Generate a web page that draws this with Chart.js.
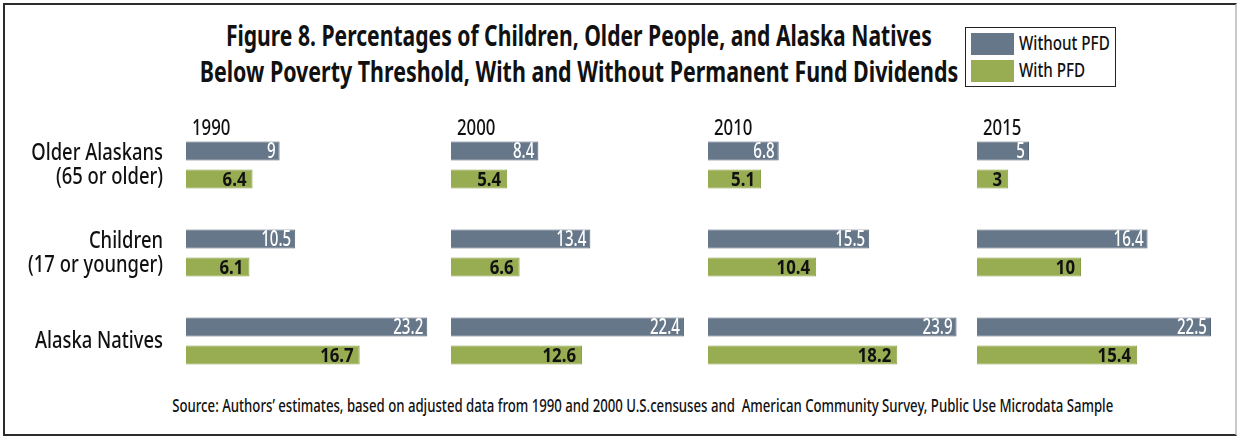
<!DOCTYPE html>
<html>
<head>
<meta charset="utf-8">
<script src="https://cdn.jsdelivr.net/npm/chart.js@4.4.1/dist/chart.umd.min.js"></script>
<style>
  body { margin: 0; background: #fff; width: 1239px; height: 439px; overflow: hidden; position: relative;
         font-family: "Noto Sans", "Open Sans", sans-serif; color: #111; }
  .frame { position: absolute; left: 3px; top: 3px; width: 1230px; height: 429px;
           border: 2px solid #2b2b2b; border-right-color: #c9c9c9; }
  .title { position: absolute; left: 0; top: 17px; width: 1158px; text-align: center;
           font-weight: bold; font-size: 29px; line-height: 36px; }
  .title span, .source span { display: inline-block; white-space: nowrap; transform-origin: center; }
  .legend { position: absolute; left: 965px; top: 27px; width: 149px; height: 58px;
            border: 1.5px solid #222; font-size: 20px; font-weight: 500; }
  .legend div { position: absolute; left: 5px; height: 22px; line-height: 22px; white-space: nowrap; }
  .legend i { position: absolute; left: 0; top: 0; width: 43px; height: 22px; }
  .legend span { position: absolute; left: 48px; top: -1px; transform: scaleX(0.76); transform-origin: left; }
  .source { position: absolute; left: 0; top: 395px; width: 1276px; text-align: center;
            font-size: 18px; line-height: 20px; font-weight: 500; }
  canvas { position: absolute; top: 111px; }
</style>
</head>
<body>
<div class="frame"></div>
<div class="title">
  <span data-w="706">Figure 8. Percentages of Children, Older People, and Alaska Natives</span><br>
  <span data-w="759">Below Poverty Threshold, With and Without Permanent Fund Dividends</span>
</div>
<div class="legend" id="legend"></div>
<div class="source"><span data-w="940">Source: Authors’ estimates, based on adjusted data from 1990 and 2000 U.S.censuses and&nbsp; American Community Survey, Public Use Microdata Sample</span></div>
<canvas id="p0" width="446" height="284"></canvas>
<canvas id="p1" width="260" height="284"></canvas>
<canvas id="p2" width="260" height="284"></canvas>
<canvas id="p3" width="260" height="284"></canvas>

<script>
// poverty rates (%) by year, group order: older, children, natives
const years = ['1990', '2000', '2010', '2015'];
const groups = [['Older Alaskans', '(65 or older)'], ['Children', '(17 or younger)'], ['Alaska Natives']];
const seriesNames = ['Without PFD', 'With PFD'];
const withoutPfd = [[9, 10.5, 23.2], [8.4, 13.4, 22.4], [6.8, 15.5, 23.9], [5, 16.4, 22.5]];
const withPfd = [[6.4, 6.1, 16.7], [5.4, 6.6, 12.6], [5.1, 10.4, 18.2], [3, 10, 15.4]];

const FONT = '"Noto Sans", "Open Sans", sans-serif';
const colors = ['#66778a', '#98ad52'];
const borders = ['#566577', '#88a044'];
const panelLeft = [0, 451, 708, 977];
const LABEL_GUTTER = 186;

// narrow the html headings down to the condensed widths
document.querySelectorAll('[data-w]').forEach(s => {
  s.style.transform = 'scaleX(' + (s.dataset.w / s.offsetWidth).toFixed(3) + ')';
});

/* legend */
const legend = document.getElementById('legend');
seriesNames.forEach((name, i) => {
  const row = document.createElement('div');
  row.style.top = (5 + i * 27) + 'px';
  row.innerHTML = `<i style="background:${colors[i]}"></i><span>${name}</span>`;
  legend.appendChild(row);
});

function squeezeText(ctx, text, x, y, k) {
  ctx.save();
  ctx.translate(x, y);
  ctx.scale(k, 1);
  ctx.fillText(text, 0, 0);
  ctx.restore();
}

const barLabels = {
  id: 'barLabels',
  afterDatasetsDraw(chart, args, opts) {
    const ctx = chart.ctx;
    ctx.save();
    ctx.textAlign = 'right';
    ctx.textBaseline = 'middle';
    chart.data.datasets.forEach((ds, di) => {
      ctx.font = (di === 0 ? '500 21px ' : 'bold 20px ') + FONT;
      ctx.fillStyle = di === 0 ? '#ffffff' : '#111111';
      chart.getDatasetMeta(di).data.forEach((bar, j) => {
        squeezeText(ctx, String(ds.data[j]), bar.x - (di === 0 ? 4 : 6), bar.y + 1, di === 0 ? 0.72 : 0.84);
      });
    });

    // year heading above the first bar
    const first = chart.getDatasetMeta(0).data[0];
    ctx.textAlign = 'left';
    ctx.textBaseline = 'alphabetic';
    ctx.font = '500 21px ' + FONT;
    ctx.fillStyle = '#111111';
    squeezeText(ctx, opts.year, chart.chartArea.left + 6, first.y - first.height / 2 - 6, 0.8);

    // group names to the left of the first panel
    if (opts.groupLabels) {
      const y = chart.scales.y;
      ctx.textAlign = 'right';
      ctx.textBaseline = 'middle';
      ctx.font = '500 23px ' + FONT;
      const lineH = 24;
      chart.data.labels.forEach((lines, i) => {
        const cy = y.getPixelForValue(i) - (lines.length - 1) * lineH / 2;
        lines.forEach((line, k) => {
          squeezeText(ctx, line, chart.chartArea.left - 23, cy + k * lineH, 0.8);
        });
      });
    }
    ctx.restore();
  }
};

years.forEach((year, p) => {
  const canvas = document.getElementById('p' + p);
  canvas.style.left = panelLeft[p] + 'px';
  new Chart(canvas, {
    type: 'bar',
    data: {
      labels: groups,
      datasets: [
        { label: seriesNames[0], data: withoutPfd[p], backgroundColor: colors[0], borderColor: borders[0], borderWidth: 1 },
        { label: seriesNames[1], data: withPfd[p], backgroundColor: colors[1], borderColor: borders[1], borderWidth: 1 }
      ]
    },
    options: {
      responsive: false,
      animation: false,
      indexAxis: 'y',
      categoryPercentage: 0.636,
      barPercentage: 0.68,
      layout: { padding: { top: 10, bottom: 10, left: p === 0 ? LABEL_GUTTER : 0 } },
      plugins: {
        legend: { display: false },
        tooltip: { enabled: false },
        barLabels: { year, groupLabels: p === 0 }
      },
      scales: {
        x: { display: false, min: 0, max: 25 },
        y: { display: false }
      }
    },
    plugins: [barLabels]
  });
});
</script>
</body>
</html>
